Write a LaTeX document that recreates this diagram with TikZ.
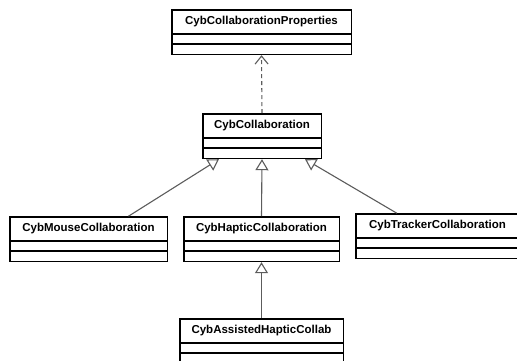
\documentclass[tikz,border=0pt]{standalone}
\usepackage{fontspec}
\setmainfont{Liberation Sans}
\usetikzlibrary{positioning,arrows.meta,fit}
\definecolor{umlgray}{RGB}{92,92,92}
\tikzset{
  every picture/.style={line join=miter},
  classtitle/.style={draw=black,line width=.8pt,fill=white,anchor=north,
    minimum height=23pt,inner sep=0pt,
    font=\bfseries\fontsize{11.5}{13}\selectfont},
  compartment/.style={draw=black,line width=.8pt,fill=white,
    minimum height=9.5pt,inner sep=0pt},
  classframe/.style={draw=black,line width=1.6pt,inner sep=0pt},
  inherit/.style={-{Triangle[open,length=11pt,width=13pt]},
    line width=1.1pt,draw=umlgray},
  depend/.style={-{Straight Barb[length=8pt,width=13pt]},
    dash pattern=on 4pt off 3pt,line width=1.1pt,draw=umlgray}
}

\begin{document}
\begin{tikzpicture}[x=1pt,y=-1pt]
  \useasboundingbox (0,0) rectangle (517,360);

  % The classes: title band plus two empty compartments.
  \foreach \name/\x/\y/\w/\txt in {
    props/261.5/10/179/CybCollaborationProperties,
    collab/262/114/118/CybCollaboration,
    mouse/88.5/217/157/CybMouseCollaboration,
    haptic/261.5/217/155/CybHapticCollaboration,
    tracker/437.5/214/163/CybTrackerCollaboration,
    assisted/261.5/319/163/CybAssistedHapticCollab}{
    \node[classtitle,minimum width=\w pt] (\name) at (\x,\y) {\txt};
    \node[compartment,minimum width=\w pt,below=0pt of \name]
      (\name-a) {};
    \node[compartment,minimum width=\w pt,below=0pt of \name-a]
      (\name-o) {};
    \node[classframe,fit=(\name)(\name-o)] (\name-box) {};
  }

  % Dependency on the properties class.
  \draw[depend] (collab-box.north) -- (props-box.south);

  % Generalisations.
  \draw[inherit] ([xshift=40pt]mouse-box.north)
    -- ([xshift=-43pt]collab-box.south);
  \draw[inherit] (haptic-box.north) -- (collab-box.south);
  \draw[inherit] ([xshift=42pt]tracker-box.north west)
    -- ([xshift=43pt]collab-box.south);
  \draw[inherit] (assisted-box.north) -- (haptic-box.south);
\end{tikzpicture}
\end{document}
